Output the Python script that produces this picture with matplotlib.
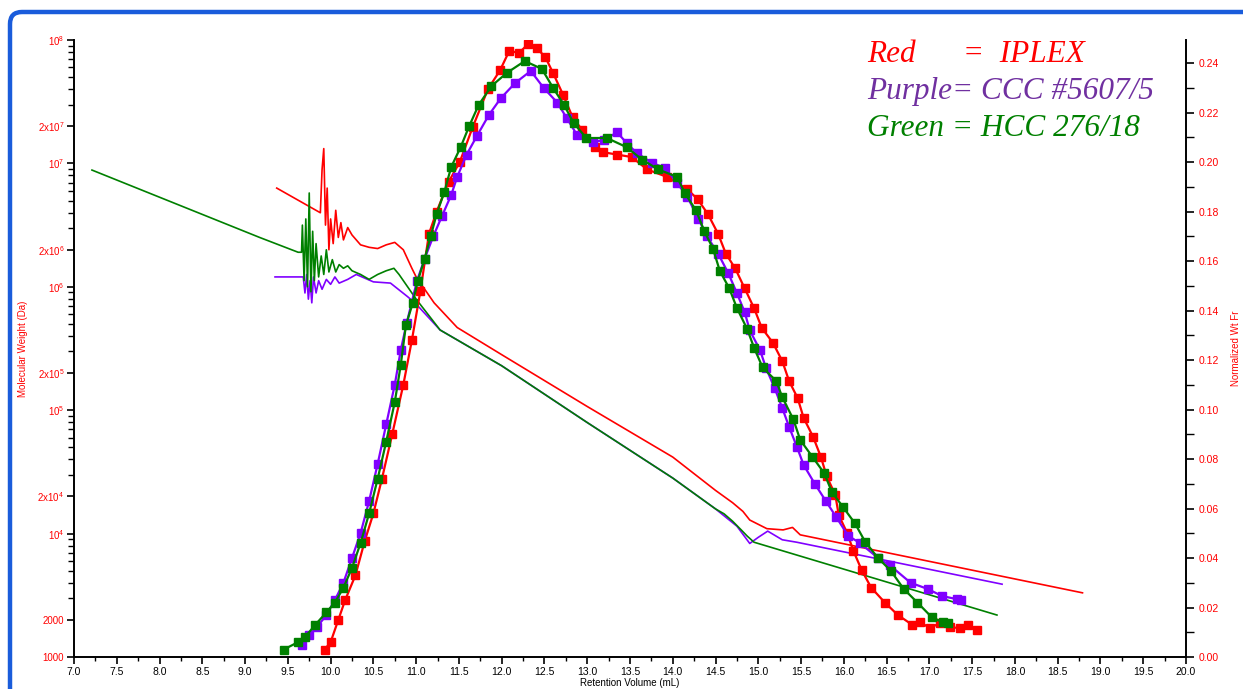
import matplotlib
matplotlib.use("Agg")
import matplotlib.pyplot as plt
from matplotlib.patches import FancyBboxPatch
from matplotlib.ticker import FixedLocator, FixedFormatter, MultipleLocator, NullFormatter
import numpy as np

plt.rcParams['font.family'] = ['Liberation Sans', 'DejaVu Sans']

# ---------------- data ----------------
# Molecular weight calibration curves (log10 MW vs retention volume)
red_mw_x = [9.37, 9.88, 9.90, 9.92, 9.94, 9.96, 9.98, 10.00, 10.03, 10.06, 10.09, 10.12, 10.15, 10.20,
            10.25, 10.30, 10.35, 10.45, 10.55, 10.65, 10.75, 10.85, 10.95, 11.00, 11.21, 11.48, 12.0,
            13.0, 14.0, 14.5, 14.7, 14.82, 14.9, 15.10, 15.29, 15.40, 15.49, 18.79]
red_mw_log = [6.80, 6.60, 6.95, 7.12, 6.50, 6.80, 6.30, 6.55, 6.35, 6.62, 6.40, 6.52, 6.38, 6.48,
              6.42, 6.38, 6.34, 6.32, 6.31, 6.34, 6.36, 6.30, 6.15, 6.08, 5.87, 5.67, 5.45,
              5.03, 4.62, 4.35, 4.25, 4.18, 4.11, 4.04, 4.03, 4.05, 3.99, 3.52]

purple_mw_x = [9.35, 9.68, 9.70, 9.72, 9.74, 9.76, 9.78, 9.80, 9.83, 9.86, 9.90, 9.95, 10.0, 10.05,
               10.10, 10.2, 10.3, 10.4, 10.5, 10.7, 10.9, 11.0, 11.28, 12.0, 13.0, 14.0, 14.5,
               14.75, 14.90, 15.00, 15.11, 15.28, 15.45, 17.85]
purple_mw_log = [6.08, 6.08, 5.95, 6.10, 5.90, 6.05, 5.87, 6.08, 5.95, 6.05, 5.98, 6.06, 6.02, 6.08,
                 6.03, 6.06, 6.10, 6.07, 6.04, 6.03, 5.92, 5.86, 5.65, 5.36, 4.90, 4.45, 4.20,
                 4.06, 3.92, 3.97, 4.02, 3.95, 3.93, 3.59]

green_mw_x = [7.21, 9.17, 9.62, 9.66, 9.67, 9.69, 9.71, 9.73, 9.75, 9.77, 9.79, 9.81, 9.83, 9.86,
              9.89, 9.92, 9.95, 9.98, 10.02, 10.06, 10.10, 10.15, 10.20, 10.25, 10.35, 10.45,
              10.55, 10.65, 10.74, 10.80, 10.90, 11.00, 11.28, 12.0, 13.0, 14.0, 14.5, 14.6,
              14.7, 14.8, 14.87, 14.95, 17.79]
green_mw_log = [6.946, 6.40, 6.28, 6.28, 6.50, 6.05, 6.55, 6.00, 6.76, 5.96, 6.45, 6.05, 6.35, 6.08,
                6.25, 6.10, 6.30, 6.12, 6.22, 6.12, 6.18, 6.15, 6.17, 6.13, 6.10, 6.06,
                6.10, 6.13, 6.15, 6.10, 6.00, 5.90, 5.65, 5.36, 4.90, 4.45, 4.20, 4.16,
                4.10, 4.03, 3.98, 3.93, 3.34]

# Normalized weight fraction distributions
red_wf_x = [9.93, 10.0, 10.09, 10.17, 10.29, 10.40, 10.5, 10.6, 10.72, 10.85, 10.95, 11.05, 11.15,
            11.24, 11.38, 11.51, 11.66, 11.84, 11.98, 12.09, 12.2, 12.31, 12.41, 12.51, 12.60,
            12.72, 12.83, 12.94, 13.09, 13.18, 13.35, 13.52, 13.70, 13.93, 14.17, 14.29, 14.41,
            14.53, 14.62, 14.73, 14.84, 14.95, 15.04, 15.17, 15.28, 15.36, 15.46, 15.53, 15.64,
            15.73, 15.80, 15.90, 15.94, 16.04, 16.11, 16.21, 16.32, 16.48, 16.63, 16.80, 16.89,
            17.01, 17.12, 17.24, 17.36, 17.45, 17.56]
red_wf = [0.003, 0.006, 0.015, 0.023, 0.033, 0.047, 0.058, 0.072, 0.090, 0.110, 0.128, 0.148, 0.171,
          0.180, 0.192, 0.200, 0.214, 0.2295, 0.237, 0.245, 0.244, 0.2477, 0.246, 0.2424, 0.236,
          0.227, 0.218, 0.213, 0.206, 0.204, 0.203, 0.202, 0.197, 0.194, 0.189, 0.185, 0.179,
          0.171, 0.163, 0.157, 0.149, 0.141, 0.133, 0.127, 0.1196, 0.1115, 0.1046, 0.0966, 0.089,
          0.081, 0.073, 0.0655, 0.0574, 0.050, 0.043, 0.035, 0.028, 0.022, 0.017, 0.013, 0.014,
          0.0117, 0.0137, 0.012, 0.0117, 0.013, 0.011]

purple_wf_x = [9.67, 9.75, 9.84, 9.95, 10.05, 10.15, 10.25, 10.35, 10.45, 10.55, 10.65, 10.75, 10.82,
               10.89, 11.01, 11.10, 11.2, 11.3, 11.41, 11.48, 11.59, 11.71, 11.85, 11.99, 12.16,
               12.34, 12.49, 12.65, 12.76, 12.88, 13.07, 13.20, 13.35, 13.46, 13.58, 13.76, 13.91,
               14.05, 14.17, 14.30, 14.40, 14.53, 14.65, 14.75, 14.84, 14.90, 15.02, 15.09, 15.19,
               15.28, 15.36, 15.45, 15.53, 15.66, 15.79, 15.91, 16.05, 16.19, 16.40, 16.54, 16.78,
               16.98, 17.15, 17.32, 17.37]
purple_wf = [0.005, 0.009, 0.012, 0.017, 0.023, 0.030, 0.040, 0.050, 0.063, 0.078, 0.094, 0.110, 0.124,
             0.135, 0.152, 0.161, 0.170, 0.178, 0.1867, 0.194, 0.203, 0.2105, 0.219, 0.2258, 0.232,
             0.2368, 0.230, 0.224, 0.2178, 0.211, 0.208, 0.209, 0.212, 0.2077, 0.2036, 0.1996, 0.1976,
             0.1915, 0.186, 0.177, 0.170, 0.163, 0.155, 0.147, 0.1394, 0.132, 0.124, 0.1168, 0.1087,
             0.1006, 0.093, 0.085, 0.0776, 0.070, 0.063, 0.0566, 0.049, 0.046, 0.040, 0.037, 0.030,
             0.0275, 0.0246, 0.0234, 0.023]

green_wf_x = [9.45, 9.62, 9.70, 9.82, 9.95, 10.05, 10.15, 10.25, 10.35, 10.45, 10.55, 10.65, 10.75,
              10.82, 10.88, 10.96, 11.02, 11.10, 11.17, 11.24, 11.33, 11.41, 11.52, 11.62, 11.73,
              11.88, 12.06, 12.27, 12.47, 12.60, 12.73, 12.84, 12.99, 13.23, 13.46, 13.64, 13.83,
              14.05, 14.14, 14.27, 14.37, 14.47, 14.55, 14.66, 14.75, 14.87, 14.95, 15.05, 15.21,
              15.28, 15.41, 15.49, 15.63, 15.77, 15.86, 15.99, 16.13, 16.25, 16.40, 16.55, 16.70,
              16.86, 17.03, 17.16, 17.22]
green_wf = [0.003, 0.006, 0.008, 0.013, 0.018, 0.022, 0.028, 0.036, 0.046, 0.058, 0.072, 0.087, 0.103,
            0.118, 0.134, 0.143, 0.152, 0.161, 0.170, 0.179, 0.188, 0.198, 0.206, 0.2145, 0.223,
            0.2307, 0.236, 0.2408, 0.2376, 0.230, 0.223, 0.2158, 0.2097, 0.2097, 0.206, 0.201, 0.197,
            0.194, 0.1875, 0.1806, 0.172, 0.165, 0.156, 0.149, 0.141, 0.1325, 0.125, 0.117, 0.1115,
            0.105, 0.096, 0.0877, 0.081, 0.0743, 0.0667, 0.0606, 0.054, 0.0465, 0.040, 0.0348, 0.0275,
            0.022, 0.016, 0.014, 0.0137]

x_ticks = [7.0 + 0.5 * i for i in range(27)]
mw_ticks = [1000, 2000, 1e4, 2e4, 1e5, 2e5, 1e6, 2e6, 1e7, 2e7, 1e8]
mw_labels = ['1000', '2000', r'$\mathregular{10^4}$', r'2x$\mathregular{10^4}$',
             r'$\mathregular{10^5}$', r'2x$\mathregular{10^5}$', r'$\mathregular{10^6}$',
             r'2x$\mathregular{10^6}$', r'$\mathregular{10^7}$', r'2x$\mathregular{10^7}$',
             r'$\mathregular{10^8}$']
wf_ticks = [0.02 * i for i in range(13)]

legend_lines = [("Red      =  IPLEX", '#FF0000'),
                ("Purple= CCC #5607/5", '#7030A0'),
                ("Green = HCC 276/18", '#008000')]

RED = '#FF0000'
PURPLE = '#8000FF'
GREEN = '#008000'

# ---------------- figure ----------------
fig = plt.figure(figsize=(12.43, 6.89), dpi=100)
border = FancyBboxPatch((0.10, -0.6), 14.0, 6.89 - 0.12 + 0.6,
                        boxstyle="round,pad=0,rounding_size=0.12",
                        transform=fig.dpi_scale_trans, fill=False,
                        edgecolor='#1A5CDB', linewidth=3.2, clip_on=False)
fig.patches.append(border)

ax = fig.add_axes([74 / 1243, 32 / 689, (1186 - 74) / 1243, (657 - 40) / 689])
ax2 = ax.twinx()

ax.plot(red_mw_x, 10 ** np.array(red_mw_log), color=RED, lw=1.2)
ax.plot(purple_mw_x, 10 ** np.array(purple_mw_log), color=PURPLE, lw=1.2)
ax.plot(green_mw_x, 10 ** np.array(green_mw_log), color=GREEN, lw=1.2)

ax2.plot(red_wf_x, red_wf, color=RED, lw=1.6, marker='s', ms=5.5)
ax2.plot(purple_wf_x, purple_wf, color=PURPLE, lw=1.6, marker='s', ms=5.5)
ax2.plot(green_wf_x, green_wf, color=GREEN, lw=1.6, marker='s', ms=5.5)

ax.set_xlim(7.0, 20.0)
ax.set_yscale('log')
ax.set_ylim(1000, 1e8)
ax2.set_ylim(0, 0.2493)

ax.xaxis.set_major_locator(FixedLocator(x_ticks))
ax.set_xticklabels(['%.1f' % v for v in x_ticks])
ax.xaxis.set_minor_locator(MultipleLocator(0.25))

ax.yaxis.set_major_locator(FixedLocator(mw_ticks))
ax.yaxis.set_major_formatter(FixedFormatter(mw_labels))
minor_mw = [m * 10 ** e for e in range(3, 8) for m in range(3, 10)]
ax.yaxis.set_minor_locator(FixedLocator(minor_mw))
ax.yaxis.set_minor_formatter(NullFormatter())

ax2.yaxis.set_major_locator(FixedLocator(wf_ticks))
ax2.set_yticklabels(['%.2f' % v for v in wf_ticks])
ax2.yaxis.set_minor_locator(MultipleLocator(0.01))

for a in (ax, ax2):
    for s in a.spines.values():
        s.set_linewidth(1.4)
    a.spines['top'].set_visible(False)
ax.spines['right'].set_visible(False)
ax2.spines['left'].set_visible(False)
ax2.spines['bottom'].set_visible(False)

ax.tick_params(axis='x', which='major', direction='out', length=5, width=1.2, labelsize=7.5,
               pad=2, colors='black')
ax.tick_params(axis='x', which='minor', direction='out', length=3, width=1.0)
ax.tick_params(axis='y', which='major', direction='out', length=5, width=1.2, labelsize=7,
               labelcolor=RED, pad=2)
ax.tick_params(axis='y', which='minor', direction='out', length=4, width=1.0)
ax2.tick_params(axis='y', which='major', direction='out', length=6, width=1.2, labelsize=7.5,
                labelcolor=RED, pad=3)
ax2.tick_params(axis='y', which='minor', direction='out', length=6, width=1.0)

ax.set_xlabel('Retention Volume (mL)', fontsize=7, labelpad=1)
ax.set_ylabel('Molecular Weight (Da)', fontsize=7, color=RED, labelpad=7)
ax2.set_ylabel('Normalized Wt Fr', fontsize=7, color=RED, labelpad=9)

for i, (txt, col) in enumerate(legend_lines):
    fig.text(867 / 1243, 1 - (62 + 37 * i) / 689, txt, fontsize=22.5, color=col,
             family='Liberation Serif', style='italic', ha='left', va='baseline')

fig.savefig('out.png', dpi=100)
